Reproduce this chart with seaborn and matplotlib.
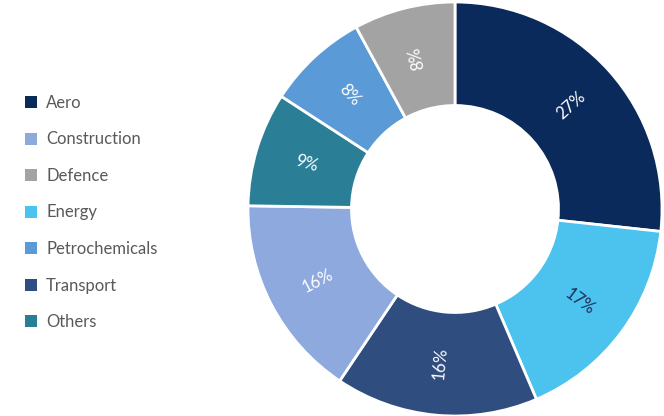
import matplotlib
matplotlib.use("Agg")
import matplotlib.pyplot as plt
from matplotlib.patches import Patch
import seaborn as sns
import numpy as np

# Data (pie order, clockwise from 12 o'clock)
sectors = ["Aero", "Energy", "Transport", "Construction", "Others", "Petrochemicals", "Defence"]
shares = [27, 17, 16, 16, 9, 8, 8]
colors = ["#0b2a5c", "#4cc2ef", "#2f4d7e", "#8ea9dd", "#2a7f97", "#5a9ad6", "#a3a3a3"]
label_colors = ["white", "#1b2f55", "white", "white", "white", "white", "white"]
legend_order = ["Aero", "Construction", "Defence", "Energy", "Petrochemicals", "Transport", "Others"]

sns.set_theme(style="white")
plt.rcParams["font.family"] = ["Lato", "DejaVu Sans"]

W, H = 664, 416
fig = plt.figure(figsize=(W / 100, H / 100), dpi=100)
cx, cy, R = 455, 209, 207
ax = fig.add_axes([(cx - R) / W, (H - cy - R) / H, 2 * R / W, 2 * R / H])

wedges, _ = ax.pie(shares, colors=colors, startangle=90, counterclock=False,
                   radius=1.0, wedgeprops=dict(width=0.5, edgecolor="white", linewidth=2))
ax.set_xlim(-1, 1)
ax.set_ylim(-1, 1)
ax.set_aspect("equal")
ax.axis("off")

for w, v, tc in zip(wedges, shares, label_colors):
    a = (w.theta1 + w.theta2) / 2.0
    a = (a + 180) % 360 - 180  # -180..180
    r = 0.75
    x, y = r * np.cos(np.radians(a)), r * np.sin(np.radians(a))
    rot = a
    if rot > 105:
        rot -= 180
    elif rot < -90:
        rot += 180
    ax.text(x, y, f"{v}%", ha="center", va="center", rotation=rot,
            rotation_mode="anchor", color=tc, fontsize=12)

handles = [Patch(facecolor=colors[sectors.index(s)], edgecolor="none", label=s) for s in legend_order]
fig.legend(handles=handles, loc="upper left", bbox_to_anchor=(10 / W, 1 - 80 / H),
           frameon=False, fontsize=12, handlelength=0.72, handleheight=0.72,
           labelspacing=1.23, handletextpad=0.55, labelcolor="#595959")

fig.savefig("out.png", dpi=100, facecolor="white")
